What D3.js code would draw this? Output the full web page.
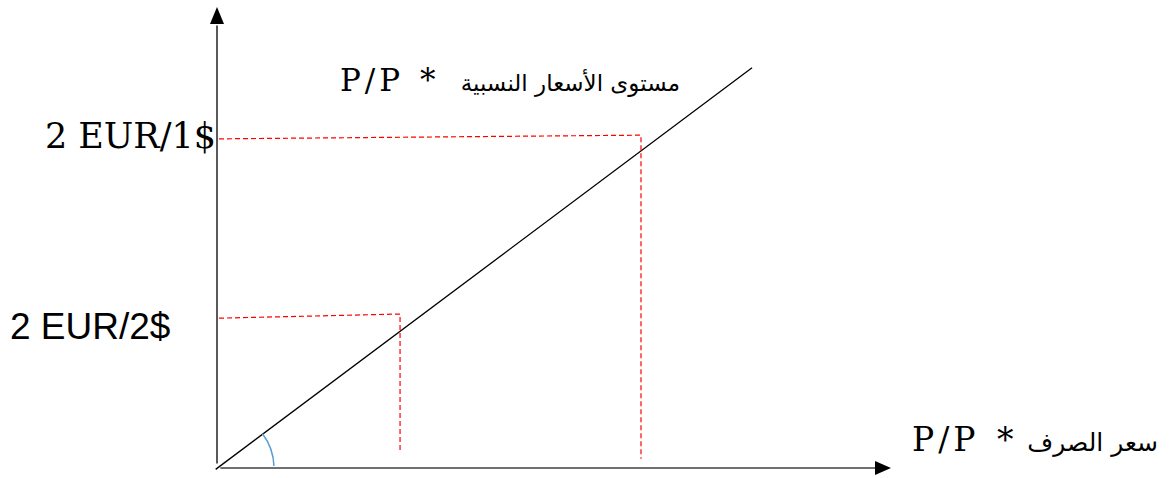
<!DOCTYPE html>
<html>
<head>
<meta charset="utf-8">
<script src="https://cdn.jsdelivr.net/npm/d3@7"></script>
<style>
  html, body { margin: 0; padding: 0; background: #fff; }
</style>
</head>
<body>
<div id="chart"></div>
<script>
// Relative price level vs exchange rate diagram
// Data space is 0..100 on both axes

// diagonal line
const diagX = [-0.2, 79.5];
const diagY = [-0.3, 86.8];

// red dashed guides: [x of corner, y at left end, y at corner, y at bottom end]
const guideX = [63.0, 27.2];
const guideYLeft = [71.4, 32.5];
const guideYCorner = [72.2, 33.4];
const guideYBottom = [2.0, 3.3];

// tick labels on the y axis
const tickLabels = ["2 EUR/1$", "2 EUR/2$"];

// axis titles: latin part and arabic part
const topTitleLatin = "P/P";
const topTitleArabic = "مستوى الأسعار النسبية";
const rightTitleLatin = "P/P";
const rightTitleArabic = "سعر الصرف";
const starMark = "*";

// angle marker in degrees (measured from x axis)
const arcAngles = [2, 37];

const width = 1171, height = 478;

const svg = d3.select("#chart")
  .append("svg")
  .attr("width", width)
  .attr("height", height);

const x = d3.scaleLinear().domain([0, 100]).range([217, 890]);
const y = d3.scaleLinear().domain([0, 100]).range([468, 7]);

// axes
svg.append("line")
  .attr("x1", x(0)).attr("y1", y(1))
  .attr("x2", x(0)).attr("y2", y(96))
  .attr("stroke", "#595959")
  .attr("stroke-width", 2);

svg.append("line")
  .attr("x1", x(0.5)).attr("y1", y(0))
  .attr("x2", x(98)).attr("y2", y(0))
  .attr("stroke", "#404040")
  .attr("stroke-width", 1.5);

// arrow heads
svg.append("path")
  .attr("d", `M${x(0)},${y(100)} L${x(0) - 7},${y(100) + 17} L${x(0) + 7},${y(100) + 17} Z`)
  .attr("fill", "#000");

svg.append("path")
  .attr("d", `M${x(100) + 1},${y(0)} L${x(100) - 15},${y(0) - 7} L${x(100) - 15},${y(0) + 7} Z`)
  .attr("fill", "#000");

// diagonal
const line = d3.line()
  .x(d => x(d[0]))
  .y(d => y(d[1]));

svg.append("path")
  .datum(d3.zip(diagX, diagY))
  .attr("d", line)
  .attr("fill", "none")
  .attr("stroke", "#000")
  .attr("stroke-width", 1.3);

// red dashed guides
guideX.forEach((gx, i) => {
  svg.append("path")
    .datum([[0.3, guideYLeft[i]], [gx, guideYCorner[i]], [gx, guideYBottom[i]]])
    .attr("d", line)
    .attr("fill", "none")
    .attr("stroke", "#ff0000")
    .attr("stroke-width", 1.2)
    .attr("stroke-dasharray", "5,3");
});

// angle arc
const arc = d3.arc()
  .innerRadius(57)
  .outerRadius(57)
  .startAngle((90 - arcAngles[1]) * Math.PI / 180)
  .endAngle((90 - arcAngles[0]) * Math.PI / 180);

svg.append("path")
  .attr("transform", `translate(${x(0)},${y(0)})`)
  .attr("d", arc())
  .attr("fill", "none")
  .attr("stroke", "#5b9bd5")
  .attr("stroke-width", 1.5);

// y tick labels
svg.append("text")
  .attr("x", x(0) - 1)
  .attr("y", y(guideYLeft[0]) + 9)
  .attr("text-anchor", "end")
  .style("font-family", "'DejaVu Serif', serif")
  .style("font-size", "35px")
  .style("fill", "#000")
  .text(tickLabels[0]);

svg.append("text")
  .attr("x", 10)
  .attr("y", y(guideYLeft[1]) + 21)
  .style("font-family", "'Liberation Sans', sans-serif")
  .style("font-size", "37px")
  .style("fill", "#000")
  .text(tickLabels[1]);

// axis titles
function title(xLatin, xStar, xArabic, yBase, latin, arabic, latinSize, arabicSize) {
  svg.append("text")
    .attr("x", xLatin)
    .attr("y", yBase)
    .style("font-family", "'DejaVu Serif', serif")
    .style("font-size", latinSize + "px")
    .style("letter-spacing", "4px")
    .style("fill", "#000")
    .text(latin);

  svg.append("text")
    .attr("x", xStar)
    .attr("y", yBase)
    .style("font-family", "'DejaVu Serif', serif")
    .style("font-size", latinSize + "px")
    .style("fill", "#000")
    .text(starMark);

  svg.append("text")
    .attr("x", xArabic)
    .attr("y", yBase)
    .attr("direction", "rtl")
    .attr("text-anchor", "start")
    .style("font-family", "'DejaVu Sans', sans-serif")
    .style("font-size", arabicSize + "px")
    .style("fill", "#000")
    .text(arabic);
}

title(340, 420, 680, 91, topTitleLatin, topTitleArabic, 31, 23);
title(912, 997, 1158, 451, rightTitleLatin, rightTitleArabic, 33, 25);
</script>
</body>
</html>
